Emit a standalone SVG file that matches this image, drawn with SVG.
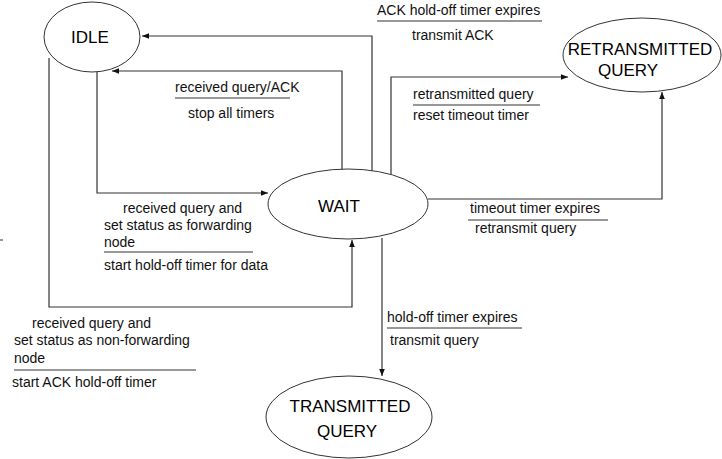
<svg xmlns="http://www.w3.org/2000/svg" width="722" height="459" viewBox="0 0 722 459">
  <style>
    .state { fill: #ffffff; stroke: #333333; stroke-width: 1; }
    .state-label { font-family: "Liberation Sans", Arial, sans-serif; font-size: 17px; fill: #000000; }
    .edge { fill: none; stroke: #333333; stroke-width: 1.2; }
    .bar { stroke: #333333; stroke-width: 1; }
    .lbl { font-family: "Liberation Sans", Arial, sans-serif; font-size: 14px; fill: #111111; }
  </style>
  <defs>
    <marker id="arrow" viewBox="0 0 10 10" refX="10" refY="5" markerWidth="7" markerHeight="7" orient="auto" markerUnits="userSpaceOnUse">
      <path d="M0,1 L10,5 L0,9 Z" fill="#111111"/>
    </marker>
  </defs>
  <rect width="722" height="459" fill="#ffffff"/>

  <!-- transitions between states -->
  <g id="connectors">
    <!-- WAIT -> IDLE (ACK hold-off timer expires) -->
    <polyline class="edge" points="372,172 372,36 142,36" marker-end="url(#arrow)"/>
    <!-- WAIT -> IDLE (received query/ACK) -->
    <polyline class="edge" points="342,170 342,71 112,71" marker-end="url(#arrow)"/>
    <!-- IDLE -> WAIT (forwarding node) -->
    <polyline class="edge" points="97,72 97,193 268,193" marker-end="url(#arrow)"/>
    <!-- IDLE -> WAIT (non-forwarding node) -->
    <polyline class="edge" points="49,58 49,307 352,307 352,240" marker-end="url(#arrow)"/>
    <!-- WAIT -> RETRANSMITTED QUERY (retransmitted query) -->
    <polyline class="edge" points="391,174 391,77 568,77" marker-end="url(#arrow)"/>
    <!-- WAIT -> RETRANSMITTED QUERY (timeout) -->
    <polyline class="edge" points="428,199 662,199 662,92" marker-end="url(#arrow)"/>
    <!-- WAIT -> TRANSMITTED QUERY -->
    <polyline class="edge" points="382,238 382,376" marker-end="url(#arrow)"/>
    <!-- small tick at the left margin -->
    <line class="bar" x1="0" y1="240" x2="3" y2="240"/>

    <!-- condition / action labels -->
    <text class="lbl" x="377" y="15">ACK hold-off timer expires</text>
    <line class="bar" x1="377" y1="21" x2="542" y2="21"/>
    <text class="lbl" x="412" y="40">transmit ACK</text>

    <text class="lbl" x="175" y="92">received query/ACK</text>
    <line class="bar" x1="175" y1="98" x2="290" y2="98"/>
    <text class="lbl" x="188" y="118">stop all timers</text>

    <text class="lbl" x="413" y="99">retransmitted query</text>
    <line class="bar" x1="413" y1="105" x2="540" y2="105"/>
    <text class="lbl" x="413" y="120">reset timeout timer</text>

    <text class="lbl" x="470" y="213">timeout timer expires</text>
    <line class="bar" x1="468" y1="220" x2="608" y2="220"/>
    <text class="lbl" x="475" y="233">retransmit query</text>

    <text class="lbl" x="123" y="213">received query and</text>
    <text class="lbl" x="104" y="230">set status as forwarding</text>
    <text class="lbl" x="104" y="247">node</text>
    <line class="bar" x1="104" y1="252" x2="253" y2="252"/>
    <text class="lbl" x="104" y="270">start hold-off timer for data</text>

    <text class="lbl" x="32" y="328">received query and</text>
    <text class="lbl" x="14" y="345">set status as non-forwarding</text>
    <text class="lbl" x="14" y="363">node</text>
    <line class="bar" x1="14" y1="370" x2="196" y2="370"/>
    <text class="lbl" x="12" y="387">start ACK hold-off timer</text>

    <text class="lbl" x="387" y="322">hold-off timer expires</text>
    <line class="bar" x1="387" y1="328" x2="522" y2="328"/>
    <text class="lbl" x="390" y="345">transmit query</text>
  </g>

  <!-- states -->
  <g id="idle">
    <ellipse class="state" cx="92" cy="37" rx="48" ry="35"/>
    <text class="state-label" x="90" y="43" text-anchor="middle" font-size="18">IDLE</text>
  </g>
  <g id="wait">
    <ellipse class="state" cx="348" cy="204" rx="80" ry="35"/>
    <text class="state-label" x="339" y="212" text-anchor="middle">WAIT</text>
  </g>
  <g id="retransmitted-query">
    <ellipse class="state" cx="642" cy="55" rx="79" ry="37"/>
    <text class="state-label" x="640" y="55" text-anchor="middle">RETRANSMITTED</text>
    <text class="state-label" x="628" y="76" text-anchor="middle">QUERY</text>
  </g>
  <g id="transmitted-query">
    <ellipse class="state" cx="349" cy="417" rx="83" ry="41"/>
    <text class="state-label" x="350" y="412" text-anchor="middle">TRANSMITTED</text>
    <text class="state-label" x="347" y="437" text-anchor="middle">QUERY</text>
  </g>
</svg>
